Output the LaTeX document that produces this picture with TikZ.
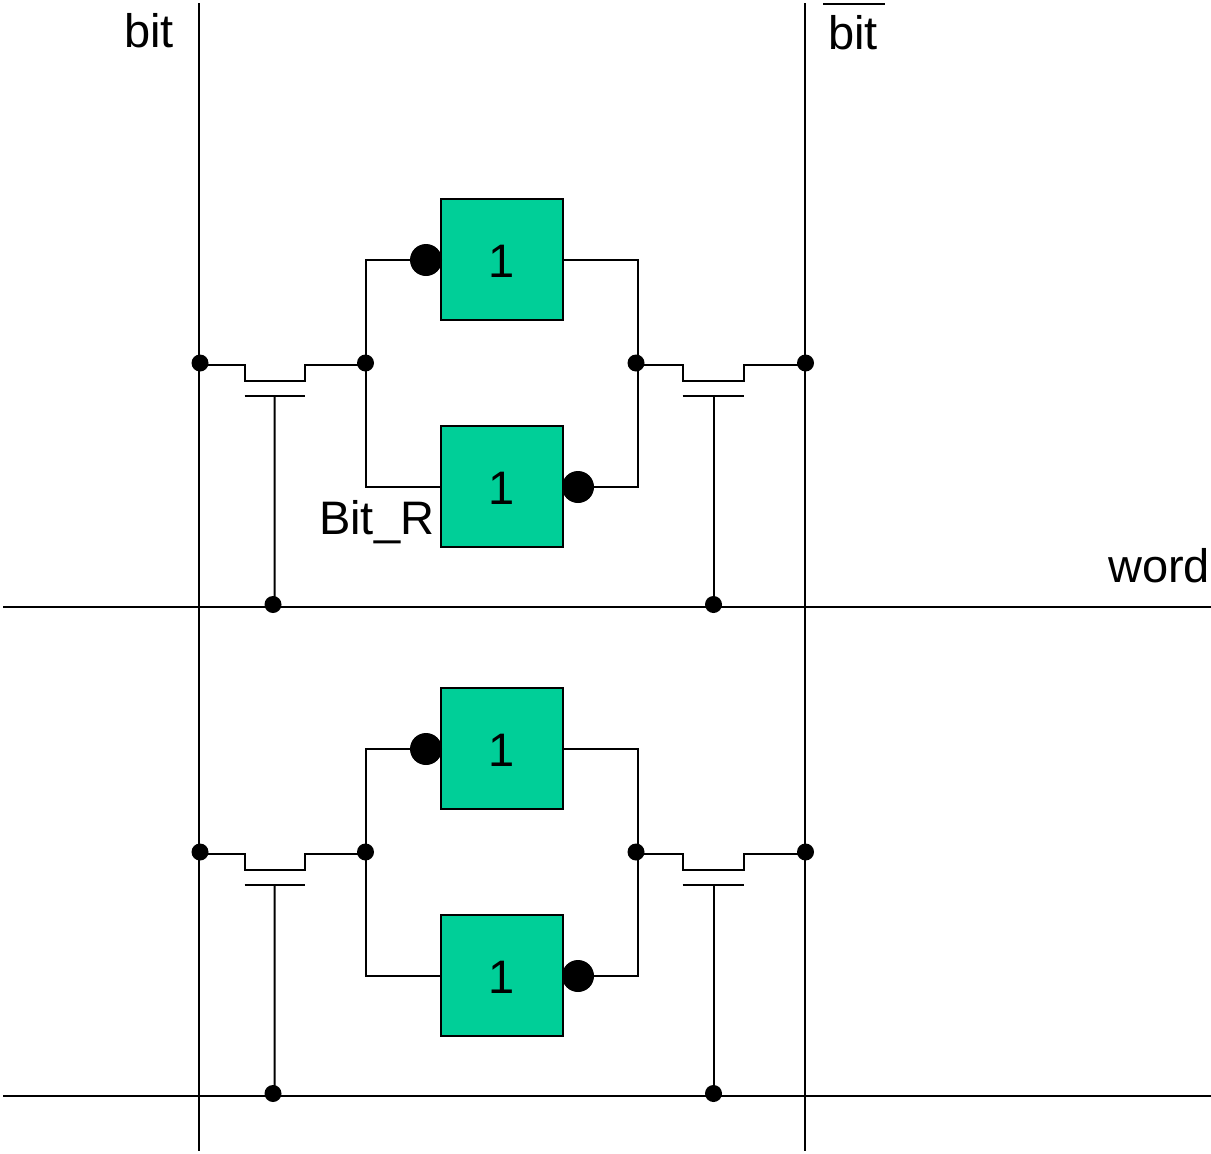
\documentclass[tikz,border=0pt]{standalone}
\usepackage{fontspec}
\setmainfont{Liberation Sans}
\definecolor{cellgreen}{RGB}{0,207,152}
\begin{document}
\begin{tikzpicture}[x=1pt,y=-1pt,
  wire/.style={draw=black,line width=2pt},
  gatebox/.style={draw=black,fill=cellgreen,minimum width=122pt,minimum height=121pt,inner sep=0pt,font=\fontsize{47}{47}\selectfont,line width=2pt},
  joint/.style={circle,fill=black,draw=none,minimum size=17pt,inner sep=0pt},
  bubble/.style={circle,fill=black,draw=none,minimum size=32pt,inner sep=0pt},
  lbl/.style={inner sep=0pt,font=\fontsize{47}{47}\selectfont}]
\useasboundingbox (0,0) rectangle (1211,1154);
% rails
\coordinate (bitT) at (198.5,3); \coordinate (bitB) at (198.5,1151);
\coordinate (barT) at (804.5,3); \coordinate (barB) at (804.5,1151);
\draw[wire] (bitT) -- (bitB);
\draw[wire] (barT) -- (barB);
\foreach \n/\dx/\dy in {a/0/0,b/0/489}{
  \begin{scope}[shift={(\dx pt,-\dy pt)}]
  \coordinate (wl\n) at (3,606.5); \coordinate (wr\n) at (1212,606.5);
  \draw[wire] (wl\n) -- (wr\n);
  \node[gatebox] (top\n) at (501.5,259) {\raisebox{-18.5pt}[0pt][0pt]{1}};
  \node[gatebox] (bot\n) at (501.5,486) {\raisebox{-18.5pt}[0pt][0pt]{1}};
  \node[bubble] (tb\n) at (426,260) {};
  \node[bubble] (bb\n) at (578,487) {};
  \node[joint] (jbl\n) at (200,363) {};
  \node[joint] (jl\n) at (365.5,363) {};
  \node[joint] (jr\n) at (636,363) {};
  \node[joint] (jbr\n) at (805.5,363) {};
  \node[joint] (gl\n) at (273,604.5) {};
  \node[joint] (gr\n) at (713.5,604.5) {};
  \coordinate (cr\n) at (637.5,363);
  \coordinate (xbl\n) at (200,364.5); \coordinate (xl\n) at (365.5,364.5);
  \coordinate (xr\n) at (636,364.5); \coordinate (xbr\n) at (805.5,364.5);
  % latch wiring
  \draw[wire] (jl\n.center) |- ([yshift=.5pt]tb\n.center);
  \draw[wire] (jl\n.center) |- ([yshift=-.5pt]bot\n.west);
  \draw[wire] ([yshift=-.5pt]top\n.east) -| (cr\n);
  \draw[wire] ([yshift=.5pt]bb\n.center) -| (cr\n);
  % left pass transistor
  \draw[wire] (xbl\n) -- (244.5,364.5) -- (244.5,380.5) -- (304.5,380.5) -- (304.5,364.5) -- (xl\n);
  \coordinate (pl\n) at (244.5,395.5); \coordinate (ql\n) at (304.5,395.5); \coordinate (sl\n) at (274.5,395.5); \coordinate (el\n) at (274.5,604);
  \draw[wire] (pl\n) -- (ql\n);
  \draw[wire] (sl\n) -- (el\n) -- (gl\n.center);
  % right pass transistor
  \draw[wire] (xr\n) -- (682.5,364.5) -- (682.5,380.5) -- (743.5,380.5) -- (743.5,364.5) -- (xbr\n);
  \coordinate (pr\n) at (682.5,395.5); \coordinate (qr\n) at (743.5,395.5); \coordinate (sr\n) at (713.5,395.5);
  \draw[wire] (pr\n) -- (qr\n);
  \draw[wire] (sr\n) -- (gr\n.center);
  \end{scope}
}
% labels
\node[lbl,anchor=base west] (lbit) at (124,47) {bit};
\node[lbl,anchor=base west] (lbar) at (828,49) {bit};
\coordinate (ovl) at (823,3.5); \coordinate (ovr) at (885,3.5);
\draw[wire] (ovl) -- (ovr);
\node[lbl,anchor=base west] (lword) at (1108,582) {word};
\node[lbl,anchor=base west] (lbitr) at (319,534) {Bit\_R};
\end{tikzpicture}
\end{document}
